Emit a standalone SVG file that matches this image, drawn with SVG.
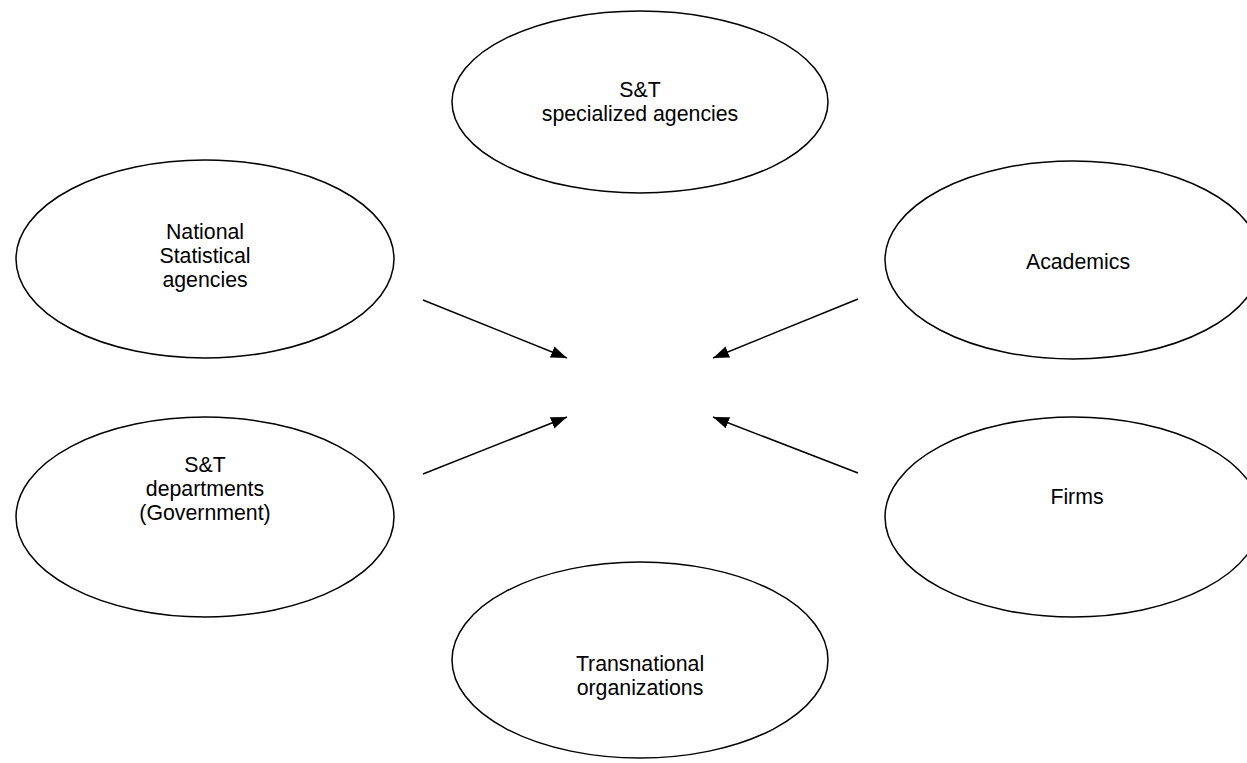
<svg xmlns="http://www.w3.org/2000/svg" width="1247" height="763" viewBox="0 0 1247 763">
<style>
.node ellipse{fill:#ffffff;stroke:#000000;stroke-width:1.5}
.node text{font-family:"Liberation Sans",Arial,sans-serif;font-size:21.3px;fill:#000000;text-anchor:middle}
.conn line{stroke:#000000;stroke-width:1.5}
</style>
<defs>
<marker id="ah" markerUnits="userSpaceOnUse" markerWidth="18" markerHeight="14" refX="16" refY="6" orient="auto">
<path d="M0,0 L16,6 L0,12 z" fill="#000000"/>
</marker>
</defs>
<rect x="0" y="0" width="1247" height="763" fill="#ffffff"/>
<g id="st-specialized" class="node">
<ellipse cx="640" cy="102" rx="188" ry="91"/>
<text x="640" y="97">S&amp;T</text>
<text x="640" y="121">specialized agencies</text>
</g>
<g id="national-statistical" class="node">
<ellipse cx="205" cy="259" rx="189" ry="99"/>
<text x="205" y="239">National</text>
<text x="205" y="263">Statistical</text>
<text x="205" y="287">agencies</text>
</g>
<g id="academics" class="node">
<ellipse cx="1073" cy="260" rx="188" ry="99"/>
<text x="1078" y="269">Academics</text>
</g>
<g id="st-departments" class="node">
<ellipse cx="205" cy="517" rx="189" ry="100"/>
<text x="205" y="472">S&amp;T</text>
<text x="205" y="496">departments</text>
<text x="205" y="520">(Government)</text>
</g>
<g id="firms" class="node">
<ellipse cx="1073" cy="517" rx="188" ry="100"/>
<text x="1077" y="504">Firms</text>
</g>
<g id="transnational" class="node">
<ellipse cx="640" cy="660" rx="188" ry="98"/>
<text x="640" y="671">Transnational</text>
<text x="640" y="695">organizations</text>
</g>
<g id="connectors" class="conn">
<line x1="423" y1="300" x2="567" y2="358" marker-end="url(#ah)"/>
<line x1="858" y1="299" x2="713" y2="358" marker-end="url(#ah)"/>
<line x1="423" y1="474" x2="567" y2="417" marker-end="url(#ah)"/>
<line x1="858" y1="473" x2="713" y2="417" marker-end="url(#ah)"/>
</g>
</svg>
